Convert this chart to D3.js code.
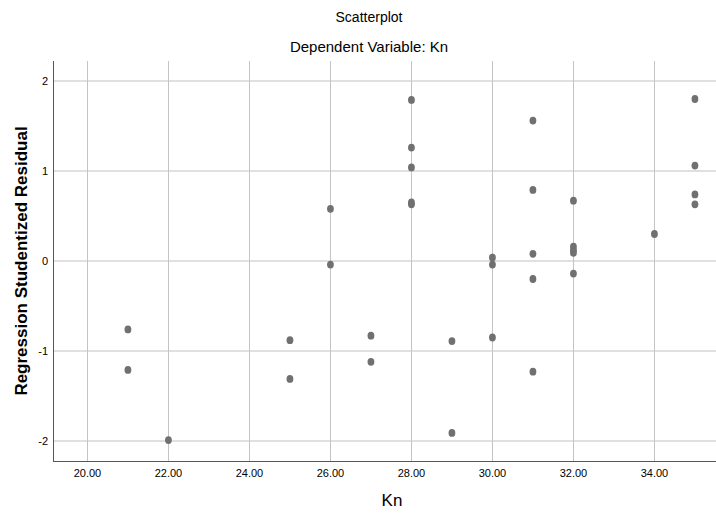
<!DOCTYPE html>
<html>
<head>
<meta charset="utf-8">
<script src="https://cdn.jsdelivr.net/npm/d3@7"></script>
<style>
	body { margin: 0; background: #fff; }
	text { font-family: "Liberation Sans Narrow", "Arial Narrow", "Liberation Sans", Arial, sans-serif; fill: #000; }
</style>
</head>
<body>
<div id="chart"></div>
<script>
// values
const knValues = [21, 21, 22, 25, 25, 26, 26, 27, 27, 28, 28, 28, 28, 28, 29, 29,
	30, 30, 30, 31, 31, 31, 31, 31, 32, 32, 32, 32, 32, 34, 35, 35, 35, 35];
const residuals = [-0.76, -1.21, -1.99, -0.88, -1.31, 0.58, -0.04, -0.83, -1.12,
	1.79, 1.26, 1.04, 0.65, 0.63, -0.89, -1.91,
	0.04, -0.04, -0.85, 1.56, 0.79, 0.08, -0.20, -1.23,
	0.67, 0.16, 0.12, 0.09, -0.14, 0.30, 1.80, 1.06, 0.74, 0.63];
const xTicks = [20, 22, 24, 26, 28, 30, 32, 34];
const yTicks = [2, 1, 0, -1, -2];

const points = knValues.map((kn, i) => ({ "kn": kn, "res": residuals[i] }));

let width = 716;
let height = 515;
let plot = { "left": 53, "right": 716, "top": 61, "bottom": 461 };

var svg = d3.select("#chart")
	.append("svg")
	.attr("width", width)
	.attr("height", height);

var x = d3.scaleLinear().domain([19.15, 35.52]).range([plot.left, plot.right]);
var y = d3.scaleLinear().domain([-2.222, 2.222]).range([plot.bottom, plot.top]);

// horizontal gridlines
svg.selectAll(".hgrid")
	.data(yTicks)
	.enter()
	.append("line")
	.attr("x1", plot.left)
	.attr("x2", plot.right)
	.attr("y1", (d) => y(d))
	.attr("y2", (d) => y(d))
	.style("stroke", "#d6d6d6")
	.style("stroke-width", 1.6);

// vertical gridlines
svg.selectAll(".vgrid")
	.data(xTicks)
	.enter()
	.append("line")
	.attr("x1", (d) => Math.round(x(d)) + 0.5)
	.attr("x2", (d) => Math.round(x(d)) + 0.5)
	.attr("y1", plot.top)
	.attr("y2", plot.bottom)
	.style("stroke", "#c4c4c4")
	.style("stroke-width", 1);

// axes
svg.append("line")
	.attr("x1", plot.left + 0.5).attr("x2", plot.left + 0.5)
	.attr("y1", plot.top).attr("y2", plot.bottom)
	.style("stroke", "#555").style("stroke-width", 1);
svg.append("line")
	.attr("x1", plot.left).attr("x2", plot.right)
	.attr("y1", plot.bottom + 0.5).attr("y2", plot.bottom + 0.5)
	.style("stroke", "#555").style("stroke-width", 1);

// tick labels
svg.selectAll(".ylab")
	.data(yTicks)
	.enter()
	.append("text")
	.attr("x", plot.left - 5)
	.attr("y", (d) => y(d) + 4)
	.attr("text-anchor", "end")
	.style("font-size", "11px")
	.text((d) => d);

svg.selectAll(".xlab")
	.data(xTicks)
	.enter()
	.append("text")
	.attr("x", (d) => x(d))
	.attr("y", 477)
	.attr("text-anchor", "middle")
	.style("font-size", "11px")
	.text((d) => d.toFixed(2));

// points
svg.selectAll(".dot")
	.data(points)
	.enter()
	.append("ellipse")
	.attr("cx", (d) => x(d.kn))
	.attr("cy", (d) => y(d.res))
	.attr("rx", 3.4)
	.attr("ry", 3.9)
	.style("fill", "#707070");

// titles
svg.append("text")
	.attr("x", 369).attr("y", 22)
	.attr("text-anchor", "middle")
	.style("font-size", "14px")
	.text("Scatterplot");
svg.append("text")
	.attr("x", 369).attr("y", 52)
	.attr("text-anchor", "middle")
	.style("font-size", "15px")
	.text("Dependent Variable: Kn");
svg.append("text")
	.attr("x", 392).attr("y", 506)
	.attr("text-anchor", "middle")
	.style("font-size", "17px")
	.text("Kn");
svg.append("text")
	.attr("transform", "translate(27,261) rotate(-90)")
	.attr("text-anchor", "middle")
	.style("font-family", "'Liberation Sans', Arial, sans-serif")
	.style("font-weight", "bold")
	.style("font-size", "17px")
	.text("Regression Studentized Residual");
</script>
</body>
</html>
